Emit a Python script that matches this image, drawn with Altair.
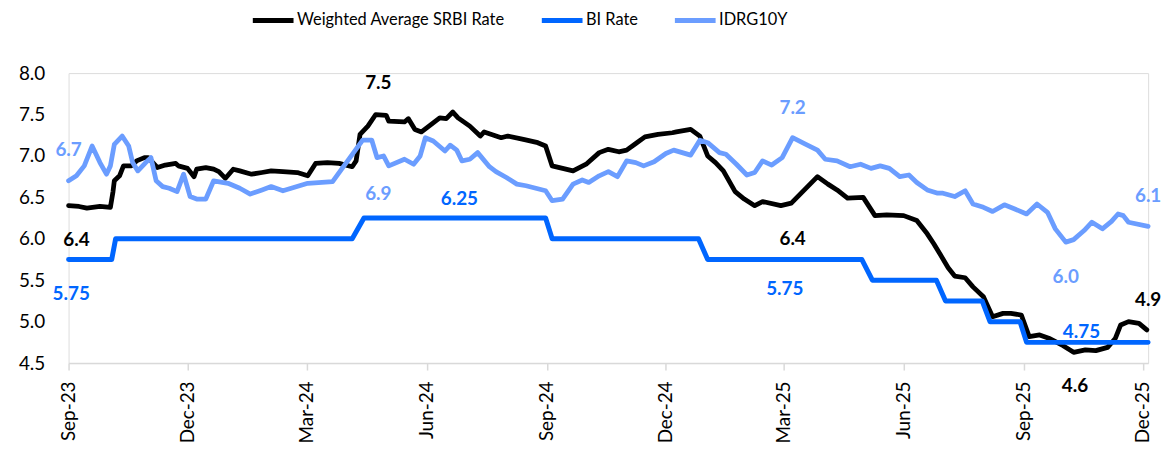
import altair as alt
import pandas as pd

series_names = ["Weighted Average SRBI Rate", "BI Rate", "IDRG10Y"]
series_colors = ["#000000", "#0066FF", "#6B9DFF"]

srbi_dates = [
    "2023-09-01", "2023-09-09", "2023-09-15", "2023-09-25", "2023-10-03", "2023-10-05", "2023-10-06",
    "2023-10-10", "2023-10-13", "2023-10-19", "2023-10-23", "2023-10-29", "2023-11-01", "2023-11-08",
    "2023-11-14", "2023-11-22", "2023-11-24", "2023-12-01", "2023-12-06", "2023-12-08", "2023-12-15",
    "2023-12-21", "2023-12-25", "2023-12-30", "2024-01-05", "2024-01-10", "2024-01-19", "2024-01-27",
    "2024-02-03", "2024-02-12", "2024-02-23", "2024-03-02", "2024-03-08", "2024-03-17", "2024-03-26",
    "2024-04-05", "2024-04-08", "2024-04-11", "2024-04-17", "2024-04-23", "2024-05-01", "2024-05-03",
    "2024-05-15", "2024-05-18", "2024-05-23", "2024-05-28", "2024-06-11", "2024-06-16", "2024-06-21",
    "2024-06-25", "2024-07-04", "2024-07-12", "2024-07-15", "2024-07-28", "2024-08-02", "2024-08-14",
    "2024-08-25", "2024-08-31", "2024-09-05", "2024-09-21", "2024-10-01", "2024-10-11", "2024-10-18",
    "2024-10-26", "2024-11-01", "2024-11-08", "2024-11-15", "2024-11-25", "2024-12-06", "2024-12-09",
    "2024-12-20", "2024-12-27", "2025-01-02", "2025-01-08", "2025-01-14", "2025-01-23", "2025-01-30",
    "2025-02-07", "2025-02-13", "2025-02-27", "2025-03-07", "2025-03-17", "2025-03-27", "2025-04-04",
    "2025-04-11", "2025-04-19", "2025-05-01", "2025-05-10", "2025-05-19", "2025-06-01", "2025-06-11",
    "2025-06-19", "2025-06-24", "2025-06-29", "2025-07-05", "2025-07-10", "2025-07-18", "2025-07-24",
    "2025-08-01", "2025-08-08", "2025-08-16", "2025-08-22", "2025-08-30", "2025-09-05", "2025-09-13",
    "2025-09-20", "2025-10-01", "2025-10-09", "2025-10-18", "2025-10-26", "2025-11-04", "2025-11-10",
    "2025-11-14", "2025-11-20", "2025-11-28", "2025-12-04",
]
srbi_values = [
    6.40, 6.39, 6.37, 6.39, 6.38, 6.57, 6.70,
    6.76, 6.88, 6.88, 6.94, 6.98, 6.98, 6.86,
    6.89, 6.91, 6.88, 6.85, 6.75, 6.84, 6.86,
    6.84, 6.81, 6.73, 6.84, 6.82, 6.78, 6.80,
    6.82, 6.81, 6.80, 6.76, 6.91, 6.92, 6.91,
    6.87, 6.94, 7.26, 7.36, 7.50, 7.49, 7.42,
    7.41, 7.45, 7.32, 7.29, 7.46, 7.45, 7.53,
    7.46, 7.36, 7.24, 7.29, 7.22, 7.24, 7.20,
    7.16, 7.12, 6.88, 6.82, 6.90, 7.04, 7.08,
    7.05, 7.07, 7.15, 7.23, 7.26, 7.28, 7.29,
    7.32, 7.24, 7.00, 6.92, 6.82, 6.57, 6.48,
    6.40, 6.45, 6.40, 6.43, 6.59, 6.75, 6.66,
    6.59, 6.49, 6.50, 6.28, 6.29, 6.28, 6.22,
    6.06, 5.94, 5.81, 5.65, 5.55, 5.53, 5.42,
    5.30, 5.06, 5.10, 5.10, 5.08, 4.82, 4.84,
    4.80, 4.71, 4.63, 4.66, 4.65, 4.69, 4.80,
    4.96, 5.00, 4.98, 4.90,
]

bi_dates = [
    "2023-09-01", "2023-10-04", "2023-10-07", "2024-04-05", "2024-04-14", "2024-08-31",
    "2024-09-05", "2024-12-26", "2025-01-02", "2025-04-30", "2025-05-08", "2025-06-26",
    "2025-07-03", "2025-07-31", "2025-08-06", "2025-08-29", "2025-09-03", "2025-12-05",
]
bi_values = [
    5.75, 5.75, 6.00, 6.00, 6.25, 6.25,
    6.00, 6.00, 5.75, 5.75, 5.50, 5.50,
    5.25, 5.25, 5.00, 5.00, 4.75, 4.75,
]

idr_dates = [
    "2023-09-01", "2023-09-07", "2023-09-13", "2023-09-19", "2023-09-25", "2023-09-30", "2023-10-03",
    "2023-10-06", "2023-10-12", "2023-10-17", "2023-10-20", "2023-10-24", "2023-10-30", "2023-11-03",
    "2023-11-07", "2023-11-12", "2023-11-17", "2023-11-23", "2023-11-28", "2023-12-03", "2023-12-08",
    "2023-12-15", "2023-12-21", "2024-01-01", "2024-01-10", "2024-01-18", "2024-01-27", "2024-02-03",
    "2024-02-12", "2024-03-02", "2024-03-21", "2024-04-13", "2024-04-20", "2024-04-24", "2024-04-29",
    "2024-05-03", "2024-05-15", "2024-05-22", "2024-05-27", "2024-05-31", "2024-06-06", "2024-06-15",
    "2024-06-19", "2024-06-24", "2024-06-28", "2024-07-04", "2024-07-10", "2024-07-19", "2024-07-24",
    "2024-08-01", "2024-08-09", "2024-08-16", "2024-08-31", "2024-09-05", "2024-09-13", "2024-09-21",
    "2024-09-28", "2024-10-03", "2024-10-11", "2024-10-18", "2024-10-25", "2024-11-01", "2024-11-08",
    "2024-11-14", "2024-11-22", "2024-12-01", "2024-12-07", "2024-12-20", "2024-12-27", "2025-01-02",
    "2025-01-11", "2025-01-16", "2025-01-24", "2025-02-01", "2025-02-07", "2025-02-13", "2025-02-20",
    "2025-02-28", "2025-03-08", "2025-03-17", "2025-03-27", "2025-04-02", "2025-04-11", "2025-04-21",
    "2025-04-29", "2025-05-07", "2025-05-14", "2025-05-21", "2025-05-29", "2025-06-05", "2025-06-11",
    "2025-06-19", "2025-06-27", "2025-07-01", "2025-07-10", "2025-07-18", "2025-07-24", "2025-08-01",
    "2025-08-08", "2025-08-17", "2025-08-25", "2025-09-03", "2025-09-11", "2025-09-19", "2025-09-25",
    "2025-10-03", "2025-10-09", "2025-10-17", "2025-10-23", "2025-10-31", "2025-11-07", "2025-11-12",
    "2025-11-16", "2025-11-20", "2025-12-05",
]
idr_values = [
    6.70, 6.76, 6.88, 7.12, 6.92, 6.78, 6.88,
    7.14, 7.24, 7.12, 6.92, 6.82, 6.92, 6.98,
    6.70, 6.63, 6.61, 6.57, 6.78, 6.51, 6.48,
    6.48, 6.70, 6.67, 6.61, 6.54, 6.59, 6.63,
    6.58, 6.67, 6.69, 7.19, 7.19, 6.98, 7.00,
    6.88, 6.96, 6.90, 7.00, 7.22, 7.18, 7.06,
    7.13, 7.07, 6.94, 6.96, 7.04, 6.87, 6.81,
    6.74, 6.66, 6.64, 6.58, 6.46, 6.48, 6.66,
    6.71, 6.68, 6.76, 6.81, 6.75, 6.94, 6.92,
    6.88, 6.93, 7.03, 7.07, 7.01, 7.19, 7.16,
    7.04, 7.02, 6.90, 6.77, 6.80, 6.94, 6.89,
    6.98, 7.22, 7.15, 7.07, 6.96, 6.94, 6.87,
    6.90, 6.85, 6.88, 6.85, 6.75, 6.77, 6.68,
    6.59, 6.55, 6.55, 6.51, 6.58, 6.42, 6.38,
    6.33, 6.41, 6.36, 6.30, 6.42, 6.32, 6.12,
    5.96, 5.99, 6.10, 6.20, 6.12, 6.21, 6.30,
    6.28, 6.20, 6.15,
]

# annotations (text, anchor date, anchor value, series)
ann_texts = ["6.4", "7.5", "6.4", "4.9", "4.6",
             "5.75", "6.25", "5.75", "4.75",
             "6.7", "6.9", "7.2", "6.0", "6.1"]
ann_dates = ["2023-09-07", "2024-04-25", "2025-03-08", "2025-12-05", "2025-10-10",
             "2023-09-03", "2024-06-26", "2025-03-02", "2025-10-15",
             "2023-09-01", "2024-04-25", "2025-03-08", "2025-10-03", "2025-12-05"]
ann_values = [5.98, 7.88, 6.00, 5.26, 4.22,
              5.33, 6.48, 5.39, 4.88,
              7.07, 6.54, 7.58, 5.54, 6.52]
ann_series = [series_names[0]] * 5 + [series_names[1]] * 4 + [series_names[2]] * 5

y_ticks = [4.5, 5.0, 5.5, 6.0, 6.5, 7.0, 7.5, 8.0]
x_ticks = [(2023, 9), (2023, 12), (2024, 3), (2024, 6), (2024, 9), (2024, 12),
           (2025, 3), (2025, 6), (2025, 9), (2025, 12)]

frames = []
for name, ds, vs in zip(series_names, [srbi_dates, bi_dates, idr_dates],
                        [srbi_values, bi_values, idr_values]):
    frames.append(pd.DataFrame({"date": ds, "value": vs, "series": name}))
df = pd.concat(frames, ignore_index=True)
ann_df = pd.DataFrame({"text": ann_texts, "date": ann_dates, "value": ann_values, "series": ann_series})

FONT = "Lato"

x_scale = alt.Scale(
    type="utc",
    domain=[alt.DateTime(year=2023, month=9, date=1, utc=True),
            alt.DateTime(year=2025, month=12, date=5, utc=True)],
)
y_scale = alt.Scale(domain=[4.5, 8.0], nice=False, zero=False)

x_axis = alt.Axis(
    values=[alt.DateTime(year=y, month=m, date=1, utc=True) for y, m in x_ticks],
    format="%b-%y", labelAngle=-90, labelFontSize=19, labelFont=FONT, labelColor="black",
    tickSize=7, tickWidth=1.5, tickColor="#d9d9d9", domainColor="#d9d9d9", domainWidth=1.5,
    labelPadding=11, grid=False, title=None,
)
y_axis = alt.Axis(
    values=y_ticks, format=".1f", domain=False, ticks=False, tickSize=0, grid=False,
    labelFontSize=19, labelFont=FONT, labelColor="black", labelPadding=24, title=None,
)
legend = alt.Legend(
    orient="none", legendX=183, legendY=-76, direction="horizontal", title=None,
    symbolType="stroke", symbolSize=1681, symbolStrokeWidth=5,
    labelFontSize=16.5, labelFont=FONT, labelColor="black", columnPadding=26,
    labelOffset=1, labelLimit=400,
)
color_scale = alt.Scale(domain=series_names, range=series_colors)

base = alt.Chart(df)


def line_layer(name, width):
    return base.transform_filter(alt.datum.series == name).mark_line(
        strokeWidth=width, strokeJoin="round", strokeCap="round"
    ).encode(
        x=alt.X("date:T", scale=x_scale, axis=x_axis),
        y=alt.Y("value:Q", scale=y_scale, axis=y_axis),
        color=alt.Color("series:N", scale=color_scale, legend=legend),
    )


def text_layer(name, color):
    return alt.Chart(ann_df).transform_filter(alt.datum.series == name).mark_text(
        color=color, font=FONT, fontWeight="bold", fontSize=19,
        align="center", baseline="middle",
    ).encode(
        x=alt.X("date:T", scale=x_scale, axis=x_axis),
        y=alt.Y("value:Q", scale=y_scale, axis=y_axis),
        text="text:N",
    )


chart = alt.layer(
    line_layer(series_names[0], 4.8),
    line_layer(series_names[1], 5),
    line_layer(series_names[2], 4.8),
    text_layer(series_names[0], series_colors[0]),
    text_layer(series_names[1], series_colors[1]),
    text_layer(series_names[2], series_colors[2]),
).properties(
    width=1087, height=292,
    padding={"left": 61, "top": 64, "right": 17, "bottom": 90},
    autosize=alt.AutoSizeParams(type="none"),
).configure_view(stroke=None).configure(font=FONT)

chart.save("out.html", embed_options={"renderer": "svg", "actions": False})
